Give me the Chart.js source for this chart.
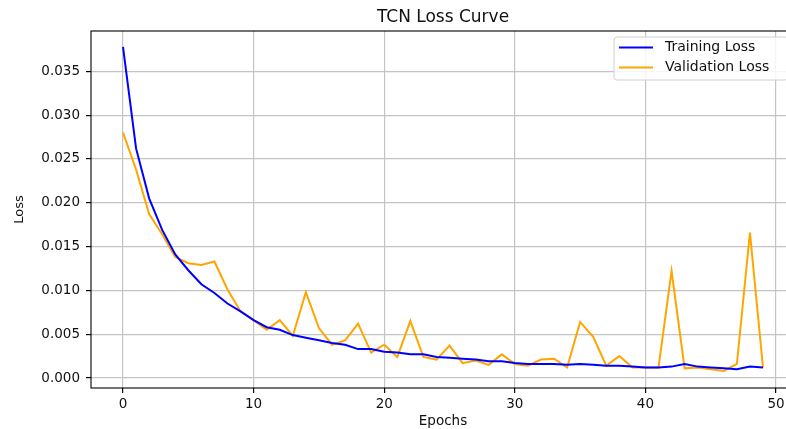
<!DOCTYPE html>
<html>
<head>
<meta charset="utf-8">
<script src="https://cdn.jsdelivr.net/npm/chart.js@4.4.1/dist/chart.umd.min.js"></script>
<style>
  html, body { margin: 0; padding: 0; background: #fff; overflow: hidden; }
  #wrap { width: 886px; height: 429px; }
</style>
</head>
<body>
<div id="wrap"><canvas id="lossChart" width="886" height="429"></canvas></div>
<script>
// values
const epochs = [0, 1, 2, 3, 4, 5, 6, 7, 8, 9,
                10, 11, 12, 13, 14, 15, 16, 17, 18, 19,
                20, 21, 22, 23, 24, 25, 26, 27, 28, 29,
                30, 31, 32, 33, 34, 35, 36, 37, 38, 39,
                40, 41, 42, 43, 44, 45, 46, 47, 48, 49];

const trainLoss = [0.0378, 0.0262, 0.0205, 0.0169, 0.0141, 0.0123, 0.0107, 0.0097, 0.0085, 0.0076,
                   0.0066, 0.0058, 0.0055, 0.0049, 0.0046, 0.0043, 0.0040, 0.0038, 0.0033, 0.0033,
                   0.0030, 0.0029, 0.0027, 0.0027, 0.0024, 0.0023, 0.0022, 0.0021, 0.0019, 0.0019,
                   0.0017, 0.0016, 0.0016, 0.0016, 0.0015, 0.0016, 0.0015, 0.0014, 0.0014, 0.0013,
                   0.0012, 0.0012, 0.0013, 0.0016, 0.0013, 0.0012, 0.0011, 0.0010, 0.0013, 0.0012];

const valLoss = [0.0280, 0.0238, 0.0187, 0.0164, 0.0138, 0.0131, 0.0129, 0.0133, 0.0101, 0.0076,
                 0.0066, 0.0055, 0.0066, 0.0048, 0.0098, 0.0057, 0.0038, 0.0043, 0.0062, 0.0029,
                 0.0038, 0.0024, 0.0065, 0.0024, 0.0021, 0.0037, 0.0017, 0.0020, 0.0015, 0.0027,
                 0.0016, 0.0014, 0.0021, 0.0022, 0.0012, 0.0064, 0.0047, 0.0014, 0.0025, 0.0012,
                 0.0012, 0.0012, 0.0122, 0.0011, 0.0012, 0.0010, 0.0008, 0.0016, 0.0166, 0.0012];

const xTicks = [0, 10, 20, 30, 40, 50];
const yTicks = [0, 0.005, 0.010, 0.015, 0.020, 0.025, 0.030, 0.035];

const FONT = "'DejaVu Sans', sans-serif";

// matplotlib style box around the axes + legend inside the plot
const framePlugin = {
    id: 'frame',
    afterDraw(chart) {
        const { ctx, chartArea: ca } = chart;
        ctx.save();
        ctx.strokeStyle = '#000';
        ctx.lineWidth = 1.1;
        ctx.strokeRect(ca.left, ca.top, ca.right - ca.left, ca.bottom - ca.top);

        // legend
        const bx = ca.right - 181, by = ca.top + 6, bw = 174, bh = 43;
        ctx.beginPath();
        ctx.roundRect(bx, by, bw, bh, 3);
        ctx.fillStyle = 'rgba(255,255,255,0.85)';
        ctx.fill();
        ctx.strokeStyle = '#d0d0d0';
        ctx.lineWidth = 1;
        ctx.stroke();

        ctx.font = '14px ' + FONT;
        ctx.textBaseline = 'middle';
        ctx.textAlign = 'left';
        chart.data.datasets.forEach((ds, i) => {
            const y = by + 10.5 + i * 20;
            ctx.beginPath();
            ctx.moveTo(bx + 5, y);
            ctx.lineTo(bx + 39, y);
            ctx.strokeStyle = ds.borderColor;
            ctx.lineWidth = 2;
            ctx.stroke();
            ctx.fillStyle = '#111';
            ctx.fillText(ds.label, bx + 51, y);
        });
        ctx.restore();
    }
};

const ctx = document.getElementById('lossChart').getContext('2d');
const lossChart = new Chart(ctx, {
    type: 'line',
    data: {
        labels: epochs,
        datasets: [
            {
                label: 'Training Loss',
                data: trainLoss,
                borderColor: '#0000ff',
                borderWidth: 2,
                pointRadius: 0,
                tension: 0,
                fill: false
            },
            {
                label: 'Validation Loss',
                data: valLoss,
                borderColor: '#ffa500',
                borderWidth: 2,
                pointRadius: 0,
                tension: 0,
                fill: false
            }
        ]
    },
    options: {
        responsive: false,
        animation: false,
        layout: { padding: 0 },
        plugins: {
            legend: { display: false },
            tooltip: { enabled: false },
            title: {
                display: true,
                text: 'TCN Loss Curve',
                color: '#111',
                font: { family: FONT, size: 17, weight: 'normal' },
                padding: { top: 7, bottom: 3.6 }
            }
        },
        scales: {
            x: {
                type: 'linear',
                min: -2.45,
                max: 51.45,
                afterBuildTicks: (s) => { s.ticks = xTicks.map(v => ({ value: v })); },
                afterFit: (s) => { s.height = 41; },
                grid: { color: '#c4c4c4', lineWidth: 1.2, tickLength: 5, tickColor: '#000' },
                border: { display: false },
                ticks: {
                    color: '#111',
                    padding: 3,
                    maxRotation: 0,
                    font: { family: FONT, size: 13.5 },
                    callback: (v) => String(v)
                },
                title: {
                    display: true,
                    text: 'Epochs',
                    color: '#111',
                    font: { family: FONT, size: 13.5, lineHeight: 1.1 },
                    padding: { top: 0, bottom: 0 }
                }
            },
            y: {
                type: 'linear',
                min: -0.00114,
                max: 0.0396,
                afterBuildTicks: (s) => { s.ticks = yTicks.map(v => ({ value: v })); },
                afterFit: (s) => { s.width = 91; },
                grid: { color: '#c4c4c4', lineWidth: 1.2, tickLength: 5, tickColor: '#000' },
                border: { display: false },
                ticks: {
                    color: '#111',
                    padding: 6,
                    font: { family: FONT, size: 13.5 },
                    callback: (v) => v.toFixed(3)
                },
                title: {
                    display: true,
                    text: 'Loss',
                    color: '#111',
                    font: { family: FONT, size: 13, lineHeight: 1.2 },
                    padding: { top: 12, bottom: 0 }
                }
            },
            // empty right-hand axis keeps the plot area where the reference has it
            yR: {
                type: 'linear',
                position: 'right',
                display: true,
                afterFit: (s) => { s.width = 91; },
                grid: { display: false },
                border: { display: false },
                ticks: { display: false }
            }
        }
    },
    plugins: [framePlugin]
});
</script>
</body>
</html>
